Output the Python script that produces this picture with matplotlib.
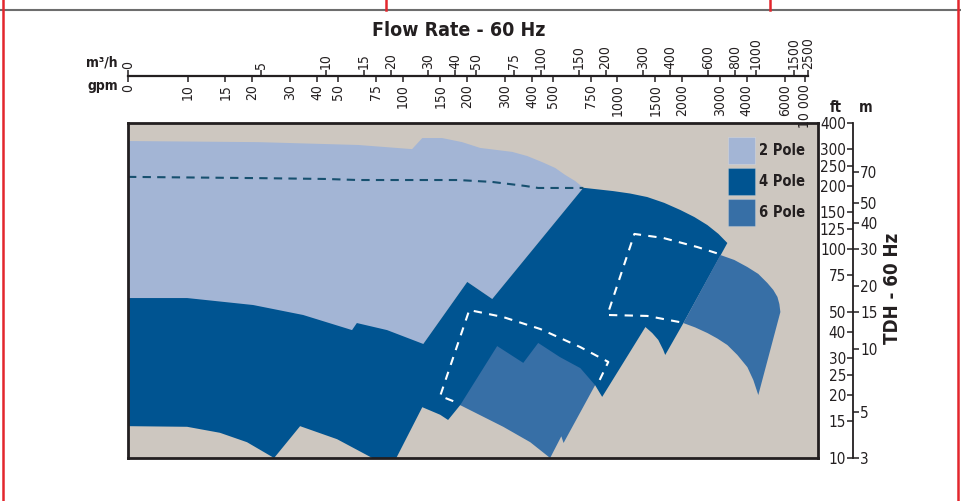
import numpy as np
import matplotlib
matplotlib.use('Agg')
import matplotlib.pyplot as plt
from matplotlib import font_manager
from matplotlib.lines import Line2D
from matplotlib.patches import Rectangle
from matplotlib.ticker import NullLocator

# pick a narrow face if one is installed
_fonts = font_manager.fontManager.ttflist
if any(f.name == 'Liberation Sans Narrow' for f in _fonts):
    plt.rcParams['font.family'] = ['Liberation Sans Narrow', 'DejaVu Sans']
elif any(f.name == 'DejaVu Sans' and str(f.stretch) == 'condensed' for f in _fonts):
    plt.rcParams['font.family'] = ['DejaVu Sans']
    plt.rcParams['font.stretch'] = 'condensed'
else:
    plt.rcParams['font.family'] = ['Liberation Sans', 'DejaVu Sans']
print(plt.rcParams['font.family'], plt.rcParams['font.stretch'])

# ruler ticks
ruler_m3h = [5, 10, 15, 20, 30, 40, 50, 75, 100, 150, 200, 300, 400, 600, 800, 1000, 1500, 2500]
ruler_gpm = [10, 15, 20, 30, 40, 50, 75, 100, 150, 200, 300, 400, 500, 750, 1000,
             1500, 2000, 3000, 4000, 6000, 10000]
head_ft = [10, 15, 20, 25, 30, 40, 50, 75, 100, 125, 150, 200, 250, 300, 400]
head_m = [3, 5, 10, 15, 20, 30, 40, 50, 70]

# coverage areas, flow in m3/h and head in ft
pole2_q = [1.2, 4.83, 14.1, 25.1, 28.0, 34.6, 42.9, 52.0, 73.3, 86.1, 101, 116, 129, 144, 157,
           59.2, 45.3, 28.3, 1.2]
pole2_h = [328, 324, 314, 300, 339, 339, 324, 304, 291, 278, 260, 244, 226, 211, 196,
           57.6, 69.5, 35.1, 35.1]

pole4_q = [1.2, 2.26, 4.58, 7.82, 13.2, 13.9, 19.2, 28.3, 45.3, 59.2, 157, 216, 259, 311, 373, 443,
           515, 592, 666, 733,
           458, 377, 369, 350, 328, 305, 192, 178, 42.0, 36.9, 33.9, 28.0, 21.2, 16.4, 11.25,
           7.57, 5.73, 4.29, 3.21, 2.26, 1.2]
pole4_h = [58.2, 58.2, 53.9, 48.3, 40.9, 44.2, 40.9, 35.1, 69.5, 57.6, 196, 189, 184, 177, 166, 153.5,
           142, 130, 118, 106.7,
           44.2, 31.1, 32.9, 36.7, 39.6, 42.3, 19.6, 22.3, 17.9, 15.2, 16.1, 17.5, 10, 10, 12.3,
           14.2, 10, 11.9, 13.2, 14.1, 14.2]

pole6a_q = [42.0, 62.4, 82.5, 96.8, 122, 152, 178, 127, 124, 110, 88.9, 66.6]
pole6a_h = [17.9, 34.3, 28.5, 35.5, 30.4, 26.9, 22.3, 11.8, 12.7, 10, 11.9, 14.1]

pole6b_q = [680, 790, 908, 1021, 1125, 1199, 1253, 1279, 1293,
            1021, 968, 908, 816, 733, 658, 592, 520, 458]
pole6b_h = [93.5, 88.5, 81.9, 75.9, 68.7, 63.6, 58.9, 54.5, 49.9,
            20.0, 23.6, 27.2, 31.1, 34.7, 37.3, 39.6, 42.1, 44.2]

dash_q = [1.2, 4.83, 9.89, 14.1, 41.1, 59.2, 84.2, 96.8, 157]
dash_h = [221, 218, 216, 213.5, 213.5, 209, 200, 195.6, 195.6]

wa_q = [39.0, 33.9, 46.3, 66.6, 98.9, 152, 205, 182]
wa_h = [18.7, 19.8, 51.0, 47.2, 41.4, 33.9, 28.8, 22.3]
wb_q = [438, 311, 203, 271, 369, 531, 695]
wb_h = [44.7, 47.8, 48.3, 117.9, 112.8, 102.1, 93.5]

pole_labels = ['2 Pole', '4 Pole', '6 Pole']

C_BG = '#CDC7C0'
C2 = '#A3B5D5'
C4 = '#005491'
C6 = '#376FA6'
C_TXT = '#231F20'
pole_colors = [C2, C4, C6]

W, H = 962, 501
Q_MIN = 1.2
GPM_TO_M3H = 0.2271
Q_BREAK = 1500.0   # the flow ruler gets squeezed above this
SQUEEZE = 0.3


def fx(px):
    return px / W


def fy(py):
    return 1 - py / H


def fwd(q):
    lq = np.log10(np.clip(np.asarray(q, dtype=float), 1e-12, None))
    lb = np.log10(Q_BREAK)
    return np.where(lq < lb, lq, lb + (lq - lb) * SQUEEZE)


def inv(v):
    v = np.clip(np.asarray(v, dtype=float), -20, 20)
    lb = np.log10(Q_BREAK)
    return np.where(v < lb, 10 ** v, 10 ** (lb + (v - lb) / SQUEEZE))


def fwd_g(g):
    return fwd(np.asarray(g, dtype=float) * GPM_TO_M3H)


def inv_g(v):
    return inv(v) / GPM_TO_M3H


fig = plt.figure(figsize=(W / 100, H / 100), dpi=100)

# main chart
ax = fig.add_axes([fx(128), fy(458), (818 - 128) / W, (458 - 123) / H])
ax.set_facecolor(C_BG)
ax.set_xscale('function', functions=(fwd, inv))
ax.set_yscale('log')
ax.set_xlim(Q_MIN, 3500)
ax.set_ylim(10, 400)
ax.tick_params(which='both', left=False, bottom=False, labelleft=False, labelbottom=False)
for s in ax.spines.values():
    s.set_linewidth(2.0)
    s.set_color(C_TXT)

ax.fill(pole2_q, pole2_h, color=C2, lw=0)
ax.fill(pole4_q, pole4_h, color=C4, lw=0)
ax.fill(pole6a_q, pole6a_h, color=C6, lw=0)
ax.fill(pole6b_q, pole6b_h, color=C6, lw=0)
ax.plot(dash_q, dash_h, color='#17506F', lw=1.5, dashes=(4, 3))
ax.plot(wa_q, wa_h, color='white', lw=1.5, dashes=(4, 3.5))
ax.plot(wb_q, wb_h, color='white', lw=1.5, dashes=(4, 3.5))

# legend boxes
for i, (lab, col) in enumerate(zip(pole_labels, pole_colors)):
    top = 137 + 31 * i
    ax.add_patch(Rectangle(((728 - 128) / 690, (458 - top - 27) / 335), 27 / 690, 27 / 335,
                           transform=ax.transAxes, facecolor=col, edgecolor='#ffffff33', lw=0.8))
    ax.text((759 - 128) / 690, (458 - top - 13.5) / 335, lab, transform=ax.transAxes,
            ha='left', va='center', fontsize=10.5, fontweight='bold', color=C_TXT)

# flow rulers
ax_q = fig.add_axes([fx(128), fy(76), 680 / W, 1e-4])
ax_q.set_xscale('function', functions=(fwd, inv))
ax_q.set_xlim(Q_MIN, 2500)
ax_q.set_xticks([Q_MIN] + ruler_m3h, labels=['0'] + [str(v) for v in ruler_m3h])
ax_q.xaxis.set_minor_locator(NullLocator())
ax_q.xaxis.set_ticks_position('top')
ax_q.tick_params(axis='x', direction='out', length=4, width=1.1, pad=1, labelsize=10,
                 labelrotation=90, colors=C_TXT)
ax_q.set_yticks([])
ax_q.patch.set_visible(False)
for s in ['left', 'right', 'top']:
    ax_q.spines[s].set_visible(False)
ax_q.spines['bottom'].set_linewidth(1.6)
ax_q.spines['bottom'].set_color(C_TXT)

ax_g = fig.add_axes([fx(128), fy(76), 680 / W, 1e-4])
ax_g.set_xscale('function', functions=(fwd_g, inv_g))
ax_g.set_xlim(Q_MIN / GPM_TO_M3H, 2500 / GPM_TO_M3H)
ax_g.set_xticks([Q_MIN / GPM_TO_M3H] + ruler_gpm,
                labels=['0'] + ['10 000' if v >= 10000 else str(v) for v in ruler_gpm])
ax_g.xaxis.set_minor_locator(NullLocator())
ax_g.xaxis.set_ticks_position('bottom')
ax_g.tick_params(axis='x', direction='out', length=4, width=1.1, pad=1.5, labelsize=10,
                 labelrotation=90, colors=C_TXT)
ax_g.set_yticks([])
ax_g.patch.set_visible(False)
for s in ax_g.spines.values():
    s.set_visible(False)

# head rulers
ax_ft = fig.add_axes([fx(853), fy(458), 1e-4, (458 - 123) / H])
ax_ft.set_yscale('log')
ax_ft.set_ylim(10, 400)
ax_ft.set_yticks(head_ft, labels=[str(v) for v in head_ft])
ax_ft.yaxis.set_minor_locator(NullLocator())
ax_ft.tick_params(axis='y', direction='out', length=4, width=1.1, pad=1, labelsize=11, colors=C_TXT)
ax_ft.set_xticks([])
ax_ft.patch.set_visible(False)
for s in ['right', 'top', 'bottom']:
    ax_ft.spines[s].set_visible(False)
ax_ft.spines['left'].set_linewidth(1.3)
ax_ft.spines['left'].set_color(C_TXT)

ax_hm = fig.add_axes([fx(853), fy(458), 1e-4, (458 - 123) / H])
ax_hm.set_yscale('log')
ax_hm.set_ylim(3, 120)
ax_hm.set_yticks(head_m, labels=[str(v) for v in head_m])
ax_hm.yaxis.set_minor_locator(NullLocator())
ax_hm.yaxis.set_ticks_position('right')
ax_hm.tick_params(axis='y', direction='out', length=4, width=1.1, pad=1, labelsize=11, colors=C_TXT)
ax_hm.set_xticks([])
ax_hm.patch.set_visible(False)
for s in ax_hm.spines.values():
    s.set_visible(False)

# texts
fig.text(fx(459), fy(30), 'Flow Rate - 60 Hz', ha='center', va='center', fontsize=14,
         fontweight='bold', color=C_TXT)
fig.text(fx(893), fy(288), 'TDH - 60 Hz', ha='center', va='center', rotation=90, fontsize=13.5,
         fontweight='bold', color=C_TXT)
fig.text(fx(118), fy(63), 'm³/h', ha='right', va='center', fontsize=10, fontweight='bold', color=C_TXT)
fig.text(fx(118), fy(86), 'gpm', ha='right', va='center', fontsize=10, fontweight='bold', color=C_TXT)
fig.text(fx(836), fy(108), 'ft', ha='center', va='center', fontsize=10.5, fontweight='bold', color=C_TXT)
fig.text(fx(866), fy(108), 'm', ha='center', va='center', fontsize=10.5, fontweight='bold', color=C_TXT)

# page frame
fig.add_artist(Line2D([0, 1], [fy(10), fy(10)], color='#6d6d6d', lw=1.5))
for xp, y0 in [(2.5, 0), (958.5, 0), (386, fy(10)), (770, fy(10))]:
    fig.add_artist(Line2D([fx(xp), fx(xp)], [y0, 1], color='#E3262D', lw=1.8))

fig.savefig('out.png', dpi=100)
